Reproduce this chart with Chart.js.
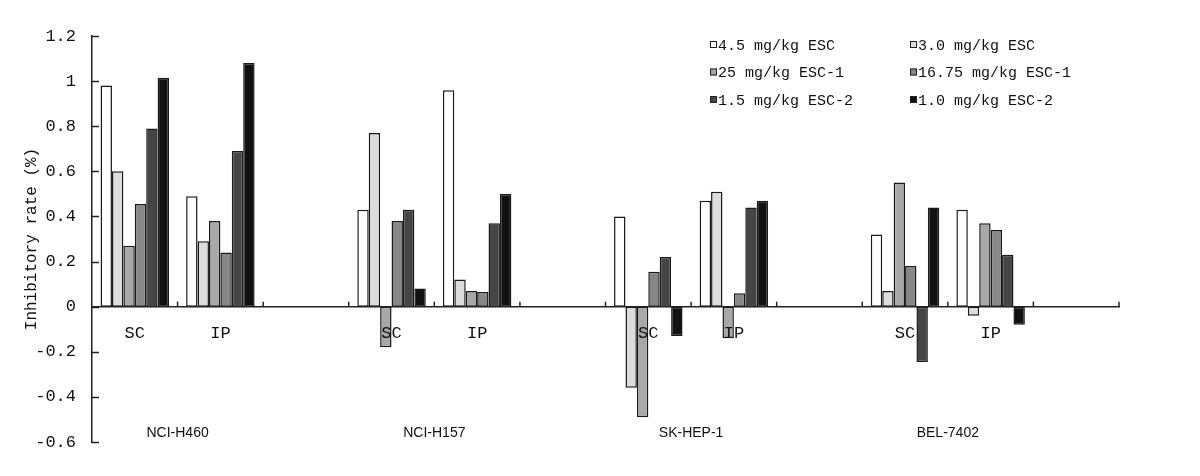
<!DOCTYPE html>
<html>
<head>
<meta charset="utf-8">
<script src="https://cdn.jsdelivr.net/npm/chart.js@4/dist/chart.umd.min.js"></script>
<style>
  body { margin: 0; background: #fff; }
  #wrap { width: 1200px; height: 476px; }
</style>
</head>
<body>
<div id="wrap"><canvas id="inhibicion" width="1200" height="476"></canvas></div>
<script>
// categorias del eje x (la tercera de cada grupo queda vacia)
const categorias = ['SC', 'IP', '', 'SC', 'IP', '', 'SC', 'IP', '', 'SC', 'IP', ''];
const lineas = ['NCI-H460', 'NCI-H157', 'SK-HEP-1', 'BEL-7402'];
const nombres = ['4.5 mg/kg ESC', '3.0 mg/kg ESC', '25 mg/kg ESC-1', '16.75 mg/kg ESC-1', '1.5 mg/kg ESC-2', '1.0 mg/kg ESC-2'];
const colores = ['#ffffff', '#dcdcdc', '#a8a8a8', '#878787', '#454545', '#111111'];

const esc45  = [0.98, 0.49, null, 0.43, 0.96, null, 0.40, 0.47, null, 0.32, 0.43, null];
const esc30  = [0.60, 0.29, null, 0.77, 0.12, null, -0.36, 0.51, null, 0.07, -0.04, null];
const esc1_25 = [0.27, 0.38, null, -0.18, 0.07, null, -0.49, -0.14, null, 0.55, 0.37, null];
const esc1_1675 = [0.455, 0.24, null, 0.38, 0.065, null, 0.155, 0.06, null, 0.18, 0.34, null];
const esc2_15 = [0.79, 0.69, null, 0.43, 0.37, null, 0.22, 0.44, null, -0.245, 0.23, null];
const esc2_10 = [1.015, 1.08, null, 0.08, 0.50, null, -0.13, 0.47, null, 0.44, -0.08, null];

const yTicks = [-0.6, -0.4, -0.2, 0, 0.2, 0.4, 0.6, 0.8, 1, 1.2];

const series = [esc45, esc30, esc1_25, esc1_1675, esc2_15, esc2_10];
const fuenteMono = "'Liberation Mono', 'DejaVu Sans Mono', monospace";

const marcas = {
    id: 'marcas',
    afterDraw(chart) {
        const {ctx, chartArea: {top, bottom, left, right}, scales: {x, y}} = chart;
        ctx.save();
        ctx.strokeStyle = '#222';
        ctx.lineWidth = 1.5;
        // marcas del eje y hacia dentro
        y.ticks.forEach(t => {
            const py = Math.round(y.getPixelForValue(t.value)) + 0.5;
            ctx.beginPath();
            ctx.moveTo(left, py);
            ctx.lineTo(left + 7, py);
            ctx.stroke();
        });
        // marcas del eje x sobre la linea del cero
        const y0 = y.getPixelForValue(0);
        const n = categorias.length;
        for (let i = 1; i <= n; i++) {
            let px;
            if (i === n) px = right;
            else px = (x.getPixelForValue(i - 1) + x.getPixelForValue(i)) / 2;
            ctx.beginPath();
            ctx.moveTo(px, y0);
            ctx.lineTo(px, y0 - 5);
            ctx.stroke();
        }
        // nombres de las lineas celulares
        ctx.fillStyle = '#111';
        ctx.font = "14px 'Liberation Sans', Arial, sans-serif";
        ctx.textAlign = 'center';
        ctx.textBaseline = 'middle';
        lineas.forEach((nombre, g) => {
            const cx = (x.getPixelForValue(g * 3) + x.getPixelForValue(g * 3 + 1)) / 2;
            ctx.fillText(nombre, cx, bottom - 9);
        });
        // leyenda en dos columnas
        ctx.font = '15px ' + fuenteMono;
        ctx.textAlign = 'left';
        chart.data.datasets.forEach((ds, i) => {
            const col = i % 2;
            const fila = Math.floor(i / 2);
            const bx = right - 409 + col * 200;
            const by = top + 9 + fila * 27.5;
            ctx.fillStyle = ds.backgroundColor;
            ctx.fillRect(bx, by - 4, 7, 7);
            ctx.lineWidth = 1;
            ctx.strokeStyle = '#222';
            ctx.strokeRect(bx + 0.5, by - 3.5, 6, 6);
            ctx.fillStyle = '#111';
            ctx.fillText(ds.label, bx + 8, by + 1);
        });
        ctx.restore();
    }
};

const ctx = document.getElementById('inhibicion').getContext('2d');
const grafico = new Chart(ctx, {
    type: 'bar',
    data: {
        labels: categorias,
        datasets: series.map((d, i) => ({
            label: nombres[i],
            data: d,
            backgroundColor: colores[i],
            borderColor: '#1a1a1a',
            borderWidth: 1.5,
            borderSkipped: false,
            categoryPercentage: 0.8,
            barPercentage: 1.0
        }))
    },
    options: {
        responsive: false,
        animation: { duration: 0 },
        layout: { padding: { left: 0, top: 36, right: 81, bottom: 34 } },
        plugins: {
            legend: { display: false },
            tooltip: { enabled: false }
        },
        scales: {
            x: {
                type: 'category',
                position: { y: 0 },
                grid: { display: false, drawTicks: false },
                border: { display: true, color: '#222', width: 1.5, z: 1 },
                ticks: {
                    z: 1,
                    color: '#111',
                    padding: 17,
                    maxRotation: 0,
                    autoSkip: false,
                    font: { family: fuenteMono, size: 17 }
                }
            },
            y: {
                min: -0.6,
                max: 1.2,
                afterFit(scale) { scale.width = 92; },
                afterBuildTicks(scale) { scale.ticks = yTicks.map(v => ({ value: v })); },
                grid: { display: false, drawTicks: false },
                border: { display: true, color: '#222', width: 1.5 },
                ticks: {
                    color: '#111',
                    padding: 16,
                    font: { family: fuenteMono, size: 17 },
                    callback: v => String(+v.toFixed(1))
                },
                title: {
                    display: true,
                    text: 'Inhibitory rate (%)',
                    color: '#111',
                    padding: { top: 22, bottom: 0 },
                    font: { family: fuenteMono, size: 16 }
                }
            }
        }
    },
    plugins: [marcas]
});
</script>
</body>
</html>
